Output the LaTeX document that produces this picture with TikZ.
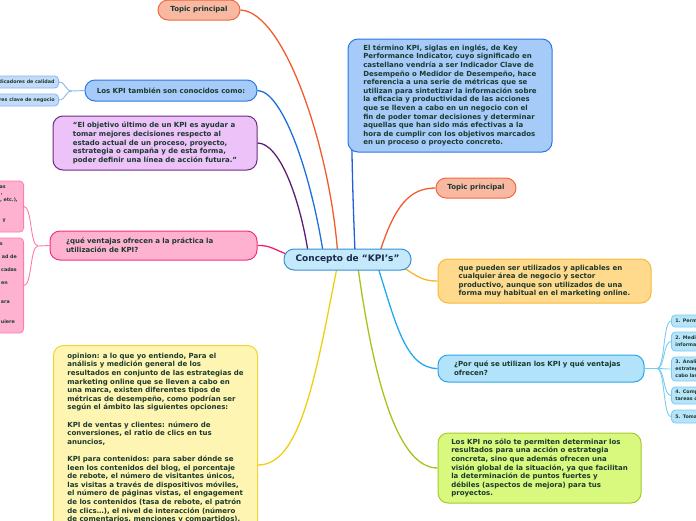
\documentclass[tikz,border=0pt]{standalone}
\usepackage{fontspec}
\setmainfont{DejaVu Sans}
\usetikzlibrary{backgrounds}
\definecolor{txt}{HTML}{1B3A2F}
\definecolor{ctxt}{HTML}{1A2B4C}
\definecolor{salF}{HTML}{F9B8A2}\definecolor{salD}{HTML}{F26A3C}\definecolor{salL}{HTML}{F25C2C}
\definecolor{bluF}{HTML}{A6CBF8}\definecolor{bluD}{HTML}{2B78E4}\definecolor{bluL}{HTML}{1F6FE0}
\definecolor{bchF}{HTML}{C3DBF9}\definecolor{bchD}{HTML}{86B5F2}
\definecolor{purF}{HTML}{ECC2F8}\definecolor{purD}{HTML}{6C2C84}\definecolor{purL}{HTML}{5E1E78}
\definecolor{pnkF}{HTML}{FFB2D0}\definecolor{pnkD}{HTML}{F2307C}\definecolor{pnkL}{HTML}{F01E6E}
\definecolor{pchD}{HTML}{FF7AAE}
\definecolor{yelF}{HTML}{FFF5B3}\definecolor{yelD}{HTML}{EFD52C}\definecolor{yelL}{HTML}{EED010}
\definecolor{cenF}{HTML}{C3E9FB}\definecolor{cenD}{HTML}{3A8FD3}
\definecolor{bigL}{HTML}{1F5FD8}
\definecolor{orgF}{HTML}{FFD98C}\definecolor{orgD}{HTML}{F7BA3A}\definecolor{orgL}{HTML}{F8B42A}
\definecolor{skyF}{HTML}{B3E3FA}\definecolor{skyD}{HTML}{2AA6E8}\definecolor{skyL}{HTML}{22AAF0}
\definecolor{schF}{HTML}{B8E4FA}\definecolor{schD}{HTML}{78CCF4}
\definecolor{grnF}{HTML}{D8F97E}\definecolor{grnD}{HTML}{A6CA2C}\definecolor{grnL}{HTML}{A4C41A}
\begin{document}
\begin{tikzpicture}[x=1pt,y=-1pt,
  box/.style={draw, line width=1pt, rounded corners=10pt, text=txt, align=left,
    inner xsep=0pt, inner ysep=0pt, font=\fontsize{7}{8.6}\selectfont\bfseries},
  small/.style={draw, line width=0.8pt, rounded corners=4pt, text=txt, align=left,
    inner xsep=4pt, inner ysep=0pt, font=\fontsize{4.8}{7}\selectfont\bfseries},
  frag/.style={text=txt, inner sep=0pt, font=\fontsize{4.8}{7}\selectfont\bfseries},
  conn/.style={line width=1.3pt},
  fork/.style={line width=0.9pt}]
\useasboundingbox (0,0) rectangle (696,520);
\clip (0,0) rectangle (696,520);

% central
\node[box, fill=cenF, draw=cenD, text=ctxt, align=center, minimum width=127, minimum height=21,
  font=\fontsize{9}{11}\selectfont\bfseries] (central) at (347.5,259.5) {Concepto de “KPI’s”};

% left side
\node[box, fill=salF, draw=salD, align=center, minimum width=82, minimum height=20] (tp1) at (199,10) {Topic principal};
\node[box, fill=bluF, draw=bluD, align=center, minimum width=172, minimum height=21] (kpi) at (171,90.5) {Los KPI también son conocidos como:};
\node[small, fill=bchF, draw=bchD, minimum height=12, anchor=east] (bc1) at (59,82) {Indicadores de calidad};
\node[small, fill=bchF, draw=bchD, minimum height=12, anchor=east] (bc2) at (59,100) {Indicadores clave de negocio};

\node[box, fill=purF, draw=purD, minimum width=204, minimum height=54] (quote) at (155,143)
 {“El objetivo último de un KPI es ayudar a\\tomar mejores decisiones respecto al\\estado actual de un proceso, proyecto,\\estrategia o campaña y de esta forma,\\poder definir una línea de acción futura.”};

\node[box, fill=pnkF, draw=pnkD, minimum width=207, minimum height=29, text width=175, font=\fontsize{7}{9}\selectfont\bfseries] (vent) at (153.5,245.5)
 {¿qué ventajas ofrecen a la práctica la\\utilización de KPI?};
\node[small, fill=pnkF, draw=pchD, minimum width=70, minimum height=51, anchor=east] (pc1) at (24,206.5) {};
\node[small, fill=pnkF, draw=pchD, minimum width=70, minimum height=95, anchor=east] (pc2) at (24,285.5) {};
\node[frag, anchor=east] (pf1) at (6,187) {as};
\node[frag, anchor=east] (pf2) at (3,194) {,};
\node[frag, anchor=east] (pf3) at (18,200) {, etc.),};
\node[frag, anchor=east] (pf4) at (6,221) {y};
\node[frag, anchor=east] (pf5) at (3,244) {s};
\node[frag, anchor=east] (pf6) at (17,257) {ad de};
\node[frag, anchor=east] (pf7) at (17,270) {cadas};
\node[frag, anchor=east] (pf8) at (8,283) {en};
\node[frag, anchor=east] (pf9) at (10,302) {ara};
\node[frag, anchor=east] (pf10) at (15,322) {uiere};

\node[box, fill=yelF, draw=yelD, anchor=north west, minimum width=204, inner ysep=7.5pt] (opin) at (53,345)
 {opinion: a lo que yo entiendo, Para el\\análisis y medición general de los\\resultados en conjunto de las estrategias de\\marketing online que se lleven a cabo en\\una marca, existen diferentes tipos de\\métricas de desempeño, como podrían ser\\según el ámbito las siguientes opciones:\\[8.6pt]KPI de ventas y clientes: número de\\conversiones, el ratio de clics en tus\\anuncios,\\[8.6pt]KPI para contenidos: para saber dónde se\\leen los contenidos del blog, el porcentaje\\de rebote, el número de visitantes únicos,\\las visitas a través de dispositivos móviles,\\el número de páginas vistas, el engagement\\de los contenidos (tasa de rebote, el patrón\\de clics…), el nivel de interacción (número\\de comentarios, menciones y compartidos),\\\rule{0pt}{30pt}};

% right side
\node[box, fill=bluF, draw=bluD, minimum width=204, minimum height=113] (big) at (450,95.5)
 {El término KPI, siglas en inglés, de Key\\Performance Indicator, cuyo significado en\\castellano vendría a ser Indicador Clave de\\Desempeño o Medidor de Desempeño, hace\\referencia a una serie de métricas que se\\utilizan para sintetizar la información sobre\\la eficacia y productividad de las acciones\\que se lleven a cabo en un negocio con el\\fin de poder tomar decisiones y determinar\\aquellas que han sido más efectivas a la\\hora de cumplir con los objetivos marcados\\en un proceso o proyecto concreto.};
\node[box, fill=salF, draw=salD, align=center, minimum width=80, minimum height=20] (tp2) at (476,188) {Topic principal};
\node[box, fill=orgF, draw=orgD, minimum width=213, minimum height=44] (org) at (544.5,281)
 {que pueden ser utilizados y aplicables en\\cualquier área de negocio y sector\\productivo, aunque son utilizados de una\\forma muy habitual en el marketing online.};
\node[box, fill=skyF, draw=skyD, minimum width=206, minimum height=27, text width=174] (porq) at (541,368.5)
 {¿Por qué se utilizan los KPI y qué ventajas\\ofrecen?};
\node[small, fill=schF, draw=schD, anchor=west, text width=52, minimum height=12] (sc1) at (671,321) {1. Perm};
\node[small, fill=schF, draw=schD, anchor=west, text width=52, minimum height=19] (sc2) at (671,341.5) {2. Medi\\informa};
\node[small, fill=schF, draw=schD, anchor=west, text width=52, minimum height=24] (sc3) at (671,369) {3. Anali\\estrateg\\cabo las};
\node[small, fill=schF, draw=schD, anchor=west, text width=52, minimum height=17] (sc4) at (671,395.5) {4. Comp\\tareas c};
\node[small, fill=schF, draw=schD, anchor=west, text width=52, minimum height=13] (sc5) at (671,416.5) {5. Toma};
\node[box, fill=grnF, draw=grnD, minimum width=203, minimum height=70] (grn) at (539.5,468)
 {Los KPI no sólo te permiten determinar los\\resultados para una acción o estrategia\\concreta, sino que además ofrecen una\\visión global de la situación, ya que facilitan\\la determinación de puntos fuertes y\\débiles (aspectos de mejora) para tus\\proyectos.};

\coordinate (fkb) at (72,91);
\coordinate (fkp) at (38,246);
\coordinate (fks) at (657,368.5);

\begin{scope}[on background layer]
  \draw[conn, salL] (tp1.east) .. controls (285,12) and (330,150) .. ([xshift=-10pt,yshift=-3pt]central.north);
  \draw[conn, bluL] (kpi.east) .. controls (282,91) and (310,170) .. ([xshift=-24.5pt,yshift=-3pt]central.north);
  \draw[conn, purL] (quote.east) .. controls (280,143) and (300,200) .. ([xshift=-39.5pt,yshift=-3pt]central.north);
  \draw[conn, bigL] ([xshift=4pt,yshift=20pt]big.south west) .. controls (353,200) .. ([xshift=7.5pt,yshift=-3pt]central.north);
  \draw[conn, pnkL] (vent.east) .. controls (270,245) and (275,250) .. ([xshift=3pt,yshift=5.5pt]central.west);
  \draw[conn, salL] ([xshift=32.5pt,yshift=-3pt]central.north) .. controls (395,205) and (410,188) .. (tp2.west);
  \draw[conn, orgL] (400,265) .. controls (420,279) and (425,281) .. (org.west);
  \draw[conn, skyL] ([xshift=30.5pt,yshift=3pt]central.south) .. controls (395,320) and (405,368.5) .. (porq.west);
  \draw[conn, grnL] ([xshift=10.5pt,yshift=3pt]central.south) .. controls (375,390) and (400,468) .. (grn.west);
  \draw[conn, yelL] ([xshift=-10.5pt,yshift=3pt]central.south) .. controls (315,380) and (300,465) .. ([yshift=-120pt]opin.north east);
  % forks
  \draw[fork, bchD] (kpi.west) -- (fkb);
  \draw[fork, bchD] (fkb) .. controls (65,91) and (66,82) .. (bc1.east);
  \draw[fork, bchD] (fkb) .. controls (65,91) and (66,100) .. (bc2.east);
  \draw[fork, pchD] (vent.west) -- (fkp);
  \draw[fork, pchD] (fkp) .. controls (30,246) and (32,206.5) .. (pc1.east);
  \draw[fork, pchD] (fkp) .. controls (30,246) and (32,285.5) .. (pc2.east);
  \draw[fork, schD] (porq.east) -- (fks);
  \draw[fork, schD] (fks) .. controls (665,368.5) and (663,321) .. (sc1.west);
  \draw[fork, schD] (fks) .. controls (665,368.5) and (663,341.5) .. (sc2.west);
  \draw[fork, schD] (fks) .. controls (665,368.5) and (663,369) .. (sc3.west);
  \draw[fork, schD] (fks) .. controls (665,368.5) and (663,395.5) .. (sc4.west);
  \draw[fork, schD] (fks) .. controls (665,368.5) and (663,416.5) .. (sc5.west);
\end{scope}
\end{tikzpicture}
\end{document}
